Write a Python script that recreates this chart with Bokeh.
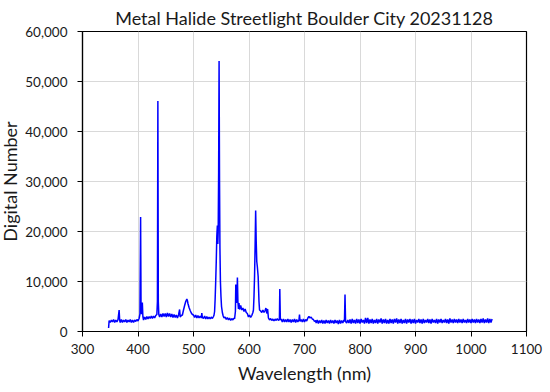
from bokeh.plotting import figure
from bokeh.models import FixedTicker, NumeralTickFormatter, Range1d
from bokeh.embed import file_html
from bokeh.resources import INLINE

TITLE = "Metal Halide Streetlight Boulder City 20231128"
X_LABEL = "Wavelength (nm)"
Y_LABEL = "Digital Number"
X_TICKS = [300, 400, 500, 600, 700, 800, 900, 1000, 1100]
Y_TICKS = [0, 10000, 20000, 30000, 40000, 50000, 60000]

# Spectrum (wavelength in nm, digital number)
wavelength_uv = [347, 348, 350, 352, 354, 356, 358, 360, 362, 364, 366, 367, 368, 370, 372, 374, 376, 378,
                 380, 382, 384, 386, 388, 390, 392, 394, 396, 398, 400, 402]
counts_uv = [700, 2200, 1800, 2300, 1900, 2400, 1800, 2300, 1900, 2400, 4300, 2200, 1800, 2400, 1800, 2300, 1900, 2400,
             1800, 2300, 1900, 2400, 1800, 2300, 1800, 2300, 2000, 2400, 2100, 2600]

wavelength_violet = [403.5, 404.7, 405.5, 406.5, 407.8, 408.8, 410, 412, 414, 416, 418, 420, 422, 424, 426, 428,
                     430, 432, 434]
counts_violet = [3500, 22900, 4000, 3500, 5800, 3000, 2300, 2900, 2400, 3000, 2500, 3000, 2600, 3100, 2600, 3100,
                 2700, 3200, 3400]

wavelength_blue = [435, 435.8, 436.6, 437.5, 439, 441, 443, 445, 447, 449, 451, 453, 455, 457, 459, 461, 463, 465,
                   467, 469, 471, 473, 475, 476, 478, 480, 482, 484, 486, 488, 489, 490, 492, 494, 496, 498]
counts_blue = [6000, 46100, 6000, 3400, 2900, 3500, 2900, 3600, 3000, 3600, 2900, 3700, 3000, 3600, 2900, 3500,
               2800, 3400, 2800, 3300, 2700, 3300, 4400, 2900, 3200, 3300, 4300, 5200, 6000, 6500, 6200, 5600, 4800,
               4200, 3700, 3400]

wavelength_green = [500, 502, 504, 506, 508, 510, 512, 514, 515, 516, 518, 520, 522, 524, 526, 528, 530, 532, 534,
                    536, 537, 538, 539, 540, 541, 542, 543, 543.8, 544.5, 545.3, 546.1, 546.9, 547.6, 548.5, 549.5,
                    550.5, 552, 553.5, 555, 557, 559, 561, 563, 565, 567, 569, 571, 573]
counts_green = [3300, 2800, 3300, 2700, 3200, 2700, 3100, 2700, 3700, 2800, 2600, 3100, 2500, 3000, 2500, 2900, 2500,
                2900, 2600, 3000, 3300, 4000, 6500, 10000, 14000, 19000, 21200, 17500, 20000, 32000, 54100, 30000,
                17000, 10000, 7000, 5000, 3800, 3100, 2700, 2900, 2400, 2800, 2300, 2700, 2200, 2600, 2300, 2700]

wavelength_yellow = [574, 575.5, 576.2, 577.3, 578.4, 579.1, 580, 581, 582, 583, 585, 587, 589, 591, 593, 595, 597,
                     599, 601, 603, 605, 607]
counts_yellow = [2500, 4000, 9400, 5700, 7000, 10800, 6000, 4500, 5700, 4400, 5200, 4300, 4700, 4000, 4500, 3800,
                 3600, 2900, 3300, 2800, 3200, 3800]

wavelength_red = [608, 609, 610, 611, 612, 613, 614, 615, 616.5, 618, 619, 621, 623, 625, 627, 629, 630.5, 632,
                  633.5, 635, 637, 639, 641, 643, 645, 647, 649, 651, 653, 654.8, 655.5, 656.5, 658, 660, 662, 664,
                  666, 668, 670, 672, 674, 676, 678, 680, 682, 684, 686, 688, 690, 691, 692, 694, 696, 698, 700, 702,
                  704, 706, 708, 710, 712, 714, 716, 718, 720]
counts_red = [4300, 7000, 11000, 17000, 24200, 18000, 14000, 13000, 11000, 6000, 4300, 4100, 3800, 4300, 3800, 4200,
              4700, 3600, 4500, 2700, 2300, 2600, 2200, 2500, 2100, 2500, 2200, 2600, 2200, 2400, 8500, 2300, 2500,
              1900, 2500, 1900, 2400, 1900, 2500, 1900, 2400, 1800, 2400, 1900, 2500, 1800, 2400, 1900, 2300, 3400,
              2000, 2400, 1900, 2500, 1900, 2400, 2100, 2700, 3000, 2700, 2900, 2500, 2400, 2000, 2200]

wavelength_nir = [721, 723, 725, 727, 729, 731, 733, 735, 737, 739, 741, 743, 745, 747, 749, 751, 753, 755, 757, 759,
                  761, 763, 765, 767, 769, 771, 772, 773, 774, 776, 778,
                  780, 782, 784, 786, 788, 790, 792, 794, 796, 798, 800, 802, 804, 806, 808, 810, 812, 814, 816, 818,
                  820, 822, 824, 826, 828, 830, 832, 834, 836, 838, 840, 842, 844, 846, 848, 850, 852, 854, 856, 858,
                  860, 862, 864, 866, 868, 870, 872, 874, 876, 878, 880, 882, 884, 886, 888, 890, 892, 894, 896, 898,
                  900, 902, 904, 906, 908, 910, 912, 914, 916, 918, 920, 922, 924, 926, 928, 930, 932, 934, 936, 938,
                  940, 942, 944, 946, 948, 950, 952, 954, 956, 958, 960, 962, 964, 966, 968, 970, 972, 974, 976, 978,
                  980, 982, 984, 986, 988, 990, 992, 994, 996, 998, 1000, 1002, 1004, 1006, 1008, 1010, 1012, 1014,
                  1016, 1018, 1020, 1022, 1024, 1026, 1028, 1030, 1032, 1034, 1036, 1038]
counts_nir = [1700, 2300, 1600, 2200, 1700, 2300, 1600, 2200, 1600, 2300, 1700, 2200, 1600, 2300, 1700, 2200, 1600,
              2300, 1700, 2200, 1500, 2300, 1600, 2200, 1700, 2300, 2000, 7400, 2000, 1700, 2300,
              1700, 2400, 1600, 2500, 1700, 2300, 1600, 2500, 1700, 2400, 1600, 2500, 1800, 2300, 1600, 2700, 1700,
              2700, 1600, 2400, 1700, 2500, 1600, 2300, 1700, 2500, 1600, 2400, 1800, 2600, 1600, 2400, 1700, 2500,
              1600, 2300, 1600, 2500, 1700, 2400, 1600, 2500, 1800, 2600, 1600, 2400, 1700, 2500, 1600, 2300, 1700,
              2500, 1600, 2400, 1800, 2500, 1600, 2400, 1700, 2500, 1600, 2300, 1800, 2500, 1700, 2400, 1600, 2500,
              1700, 2300, 1800, 2500, 1700, 2400, 1600, 2500, 1800, 2300, 1700, 2500, 1600, 2400, 1800, 2500, 1700,
              2300, 1800, 2500, 1700, 2400, 1600, 2600, 1800, 2400, 1700, 2500, 1800, 2400, 1700, 2500, 1800, 2400,
              1700, 2500, 1800, 2300, 1700, 2500, 1800, 2400, 1700, 2500, 1800, 2400, 1700, 2500, 1800, 2400, 1700,
              2500, 1800, 2600, 1700, 2400, 1800, 2600, 1700, 2500, 1800, 2500]

wavelength = (wavelength_uv + wavelength_violet + wavelength_blue + wavelength_green + wavelength_yellow
              + wavelength_red + wavelength_nir)
counts = counts_uv + counts_violet + counts_blue + counts_green + counts_yellow + counts_red + counts_nir

FONT = "Lato"
TEXT_COLOR = "#1a1a1a"

# The canvas covers the whole 550x392 window (the page's 8px margin is cancelled)
p = figure(width=550, height=392, output_backend="svg", toolbar_location=None,
           x_range=Range1d(300, 1100), y_range=Range1d(0, 60000),
           min_border_left=82, min_border_right=20, min_border_top=35, min_border_bottom=57,
           background_fill_color="white", border_fill_color="white")
p.styles = {"margin": "-4px"}

p.line(wavelength, counts, line_color="#0000ff", line_width=1.5)

p.title.text = TITLE
p.title.text_font = FONT
p.title.text_font_size = "18px"
p.title.text_font_style = "normal"
p.title.text_color = TEXT_COLOR
p.title.align = "center"
p.title.standoff = 6

for ax in (p.xaxis[0], p.yaxis[0]):
    ax.axis_label_text_font = FONT
    ax.axis_label_text_font_size = "18px"
    ax.axis_label_text_font_style = "normal"
    ax.axis_label_text_color = TEXT_COLOR
    ax.major_label_text_font = FONT
    ax.major_label_text_font_size = "13.5px"
    ax.major_label_text_color = TEXT_COLOR
    ax.axis_line_color = "#000000"
    ax.axis_line_width = 1.2
    ax.major_tick_line_color = "#000000"
    ax.major_tick_out = 5
    ax.major_tick_in = 0
    ax.minor_tick_line_color = None

p.xaxis.axis_label = X_LABEL
p.yaxis.axis_label = Y_LABEL
p.xaxis.ticker = FixedTicker(ticks=X_TICKS)
p.yaxis.ticker = FixedTicker(ticks=Y_TICKS)
p.yaxis.formatter = NumeralTickFormatter(format="0,0")
p.xaxis.major_label_standoff = 7
p.yaxis.major_label_standoff = 10
p.xaxis.axis_label_standoff = 5
p.yaxis.axis_label_standoff = 1

p.xgrid.ticker = FixedTicker(ticks=X_TICKS)
p.ygrid.ticker = FixedTicker(ticks=Y_TICKS)
p.xgrid.grid_line_color = "#d9d9d9"
p.ygrid.grid_line_color = "#d9d9d9"
p.outline_line_color = "#000000"
p.outline_line_width = 1.2

open("out.html", "w").write(file_html(p, INLINE))
